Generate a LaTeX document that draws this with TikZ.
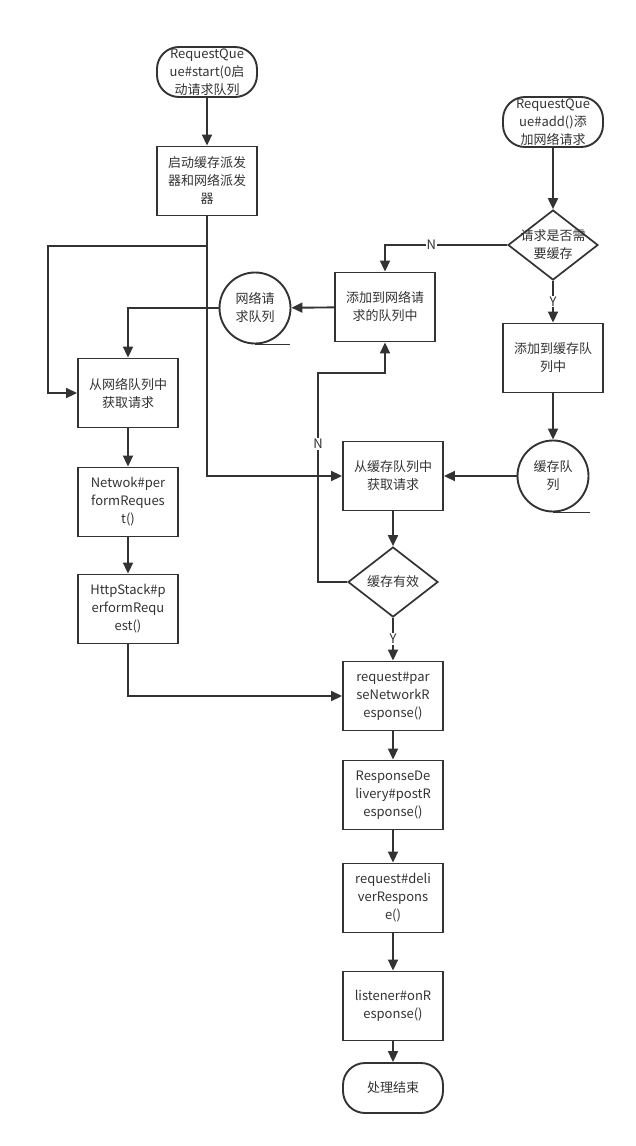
\documentclass[tikz,border=0pt]{standalone}
\usepackage{fontspec}
\setmainfont{Noto Sans CJK SC}
\usetikzlibrary{arrows.meta,shapes.geometric}
\definecolor{linha}{HTML}{333333}
\begin{document}
\begin{tikzpicture}[x=1pt,y=-1pt,
  every node/.style={font=\fontsize{13}{18}\selectfont,text=linha,align=center},
  caixa/.style={draw=linha,line width=1.9pt,minimum width=100pt,minimum height=69pt,inner sep=1pt},
  term/.style={caixa,minimum height=50pt,rounded corners=22pt},
  losango/.style={draw=linha,line width=1.7pt,diamond,minimum width=90pt,minimum height=70pt,inner sep=0pt},
  fila/.style={draw=linha,line width=1.9pt,circle,minimum size=71pt,inner sep=0pt},
  seta/.style={draw=linha,line width=1.9pt,-{Triangle[length=11pt,width=10pt]}},
  lig/.style={draw=linha,line width=1.9pt},
  rot/.style={fill=white,inner sep=1pt}]
\useasboundingbox (0,0) rectangle (636,1146);
% entradas
\node[term] (inicio) at (207,72) {RequestQue\\ue\#start(0启\\动请求队列};
\node[caixa] (despacho) at (207,181) {启动缓存派发\\器和网络派发\\器};
\node[term] (add) at (553,122) {RequestQue\\ue\#add()添\\加网络请求};
\node[losango] (precisa) at (553,245) {};
\node (precisatxt) at (precisa) {请求是否需\\要缓存};
% filas
\node[caixa] (addrede) at (385,307) {添加到网络请\\求的队列中};
\node[fila] (filarede) at (255,308) {网络请\\求队列};
\node[caixa] (addcache) at (553,358) {添加到缓存队\\列中};
\node[fila] (filacache) at (553,476) {缓存队\\列};
\draw[lig] (filarede.south) -- ++(35,0);
\draw[lig] (filacache.south) -- ++(37,0);
% despacho de rede
\node[caixa] (pegarede) at (128,393) {从网络队列中\\获取请求};
\node[caixa] (netreq) at (128,502) {Netwok\#per\\formReques\\t()};
\node[caixa] (httpreq) at (128,609) {HttpStack\#p\\erformRequ\\est()};
% despacho de cache
\node[caixa] (pegacache) at (393,476) {从缓存队列中\\获取请求};
\node[losango] (valido) at (393,582) {};
\node (validotxt) at (valido) {缓存有效};
% resposta
\node[caixa] (parse) at (393,696) {request\#par\\seNetworkR\\esponse()};
\node[caixa] (post) at (393,795) {ResponseDe\\livery\#postR\\esponse()};
\node[caixa] (deliver) at (393,898) {request\#deli\\verRespons\\e()};
\node[caixa] (listener) at (393,1006) {listener\#onR\\esponse()};
\node[term] (fim) at (393,1088) {处理结束};
% ligacoes
\coordinate (ramo) at (207,246);
\coordinate (volta) at (318,373);
\draw[seta] (inicio) -- (despacho);
\draw[seta] (despacho.south) |- (pegacache.west);
\draw[seta] (ramo) -- ++(-159,0) |- (pegarede.west);
\draw[seta] (add) -- (precisa);
\draw[seta] (precisa.west) -| node[rot,pos=0.31]{N} (addrede.north);
\draw[seta] (precisa) -- node[rot]{Y} (addcache);
\draw[seta] (addrede) -- (filarede);
\draw[seta] (filarede.west) -| (pegarede.north);
\draw[seta] (addcache) -- (filacache);
\draw[seta] (filacache) -- (pegacache);
\draw[seta] (pegarede) -- (netreq);
\draw[seta] (netreq) -- (httpreq);
\draw[seta] (httpreq.south) |- (parse.west);
\draw[seta] (pegacache) -- (valido);
\draw[seta] (valido.west) -| node[rot,pos=0.83]{N} (volta) -| (addrede.south);
\draw[seta] (valido) -- node[rot]{Y} (parse);
\draw[seta] (parse) -- (post);
\draw[seta] (post) -- (deliver);
\draw[seta] (deliver) -- (listener);
\draw[seta] (listener) -- (fim);
\end{tikzpicture}
\end{document}
